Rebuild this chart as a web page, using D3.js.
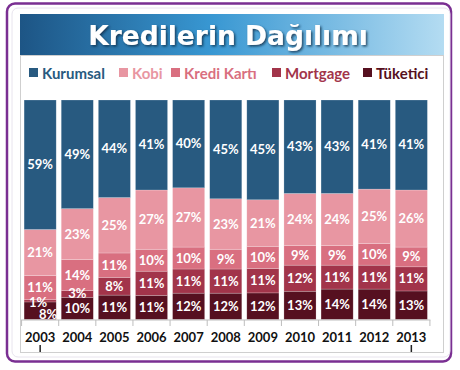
<!DOCTYPE html>
<html><head><meta charset="utf-8">
<script src="https://cdn.jsdelivr.net/npm/d3@7"></script>
<style>body{margin:0;background:#fff}svg{display:block}</style>
</head><body>
<script>
const years = ["2003","2004","2005","2006","2007","2008","2009","2010","2011","2012","2013"];
const seriesNames = ["Kurumsal","Kobi","Kredi Kartı","Mortgage","Tüketici"];
const kurumsal  = [59,49,44,41,40,45,45,43,43,41,41];
const kobi      = [21,23,25,27,27,23,21,24,24,25,26];
const krediKarti= [11,14,11,10,10, 9,10, 9, 9,10, 9];
const mortgage  = [ 1, 3, 8,11,11,11,11,12,11,11,11];
const tuketici  = [ 8,10,11,11,12,12,12,13,14,14,13];
const colors = ["#285a80","#e896a2","#d96f80","#a2344a","#561020"];

const W=460,H=370;
const svg=d3.select("body").append("svg").attr("width",W).attr("height",H);
const defs=svg.append("defs");
const g1=defs.append("linearGradient").attr("id","tg");
g1.append("stop").attr("offset","0%").attr("stop-color","#1d5585");
g1.append("stop").attr("offset","45%").attr("stop-color","#3897d2");
g1.append("stop").attr("offset","100%").attr("stop-color","#b4dcf2");
const sh=defs.append("filter").attr("id","ts").attr("x","-10%").attr("y","-30%").attr("width","120%").attr("height","160%");
sh.append("feDropShadow").attr("dx",1.5).attr("dy",1.5).attr("stdDeviation",1).attr("flood-color","#0a2a45").attr("flood-opacity",0.8);

// frame
svg.append("rect").attr("x",7).attr("y",3.5).attr("width",444).attr("height",358).attr("rx",8)
  .attr("fill","#fff").attr("stroke","#7a2f92").attr("stroke-width",2.5);
svg.append("rect").attr("x",12).attr("y",8).attr("width",438).attr("height",349).attr("rx",6)
  .attr("fill","#fff").attr("stroke","#e8e4ee").attr("stroke-width",1);
svg.append("rect").attr("x",20.5).attr("y",55.5).attr("width",423).attr("height",297)
  .attr("fill","#fff").attr("stroke","#cfcfcf").attr("stroke-width",1);
svg.append("rect").attr("x",20).attr("y",14).attr("width",424).attr("height",41).attr("fill","url(#tg)");
svg.append("text").attr("x",228).attr("y",44.5).attr("text-anchor","middle")
  .attr("font-family","DejaVu Sans").attr("font-weight","bold").attr("font-size",26.5)
  .attr("fill","#fff").attr("filter","url(#ts)").text("Kredilerin Dağılımı");

// legend
const legX=[29,119,171,272,363];
const lg=svg.append("g").attr("font-family","Lato, 'Open Sans', sans-serif").attr("font-weight","bold").attr("font-size",15);
seriesNames.forEach((n,i)=>{
  lg.append("rect").attr("x",legX[i]).attr("y",68).attr("width",9).attr("height",9).attr("fill",colors[i]);
  lg.append("text").attr("x",legX[i]+13).attr("y",78.5).attr("fill",colors[i]).text(n);
});

// data rows
const rows=years.map((y,i)=>({year:y,"Kurumsal":kurumsal[i],"Kobi":kobi[i],"Kredi Kartı":krediKarti[i],"Mortgage":mortgage[i],"Tüketici":tuketici[i]}));
const stackOrder=["Tüketici","Mortgage","Kredi Kartı","Kobi","Kurumsal"];
const stacked=d3.stack().keys(stackOrder).offset(d3.stackOffsetExpand)(rows);

const x=d3.scaleBand().domain(years).range([21.5,430]).paddingInner(0.135).paddingOuter(0.07);
const y=d3.scaleLinear().domain([0,1]).range([319.5,100]);

const bars=svg.append("g");
stacked.forEach(s=>{
  const ci=seriesNames.indexOf(s.key);
  bars.selectAll(null).data(s).join("rect")
    .attr("x",d=>x(d.data.year)).attr("width",x.bandwidth())
    .attr("y",d=>y(d[1])).attr("height",d=>y(d[0])-y(d[1]))
    .attr("fill",colors[ci]).attr("stroke","rgba(255,255,255,0.35)").attr("stroke-width",0.6);
});
const lab=svg.append("g").attr("font-family","Lato, 'Open Sans', sans-serif").attr("font-weight","bold")
  .attr("font-size",13).attr("fill","#fff").attr("text-anchor","middle");
stacked.forEach(s=>{
  s.forEach(d=>{
    const v=d.data[s.key];
    let cx=x(d.data.year)+x.bandwidth()/2, cy=(y(d[0])+y(d[1]))/2+4.5;
    if(d.data.year==="2003"&&s.key==="Mortgage"){cx-=2;cy=307;}
    if(d.data.year==="2003"&&s.key==="Tüketici"){cx+=8;cy=318.5;}
    if(d.data.year==="2004"&&s.key==="Mortgage"){cy-=0.5;}
    lab.append("text").attr("x",cx).attr("y",cy).text(v+"%");
  });
});

// axis
const ax=svg.append("g").attr("transform","translate(0,320)");
ax.append("line").attr("x1",x(years[0])-3).attr("x2",x(years[10])+x.bandwidth()+3).attr("stroke","#bdbdbd");
const step=x.step();
d3.range(12).forEach(i=>{
  const xx=x(years[0])-x.paddingInner()*step/2+i*step;
  ax.append("line").attr("x1",xx).attr("x2",xx).attr("y1",0).attr("y2",6).attr("stroke","#bdbdbd");
});
ax.selectAll("text.yr").data(years).join("text").attr("class","yr")
  .attr("x",d=>x(d)+x.bandwidth()/2).attr("y",21.5).attr("text-anchor","middle")
  .attr("font-family","Lato, 'Open Sans', sans-serif").attr("font-weight","bold").attr("font-size",13)
  .attr("fill","#111").text(d=>d);
[years[0],years[10]].forEach(yv=>{
  ax.append("line").attr("x1",x(yv)+x.bandwidth()/2).attr("x2",x(yv)+x.bandwidth()/2)
    .attr("y1",25).attr("y2",32).attr("stroke","#222").attr("stroke-width",1.5);
});
</script>
</body></html>
